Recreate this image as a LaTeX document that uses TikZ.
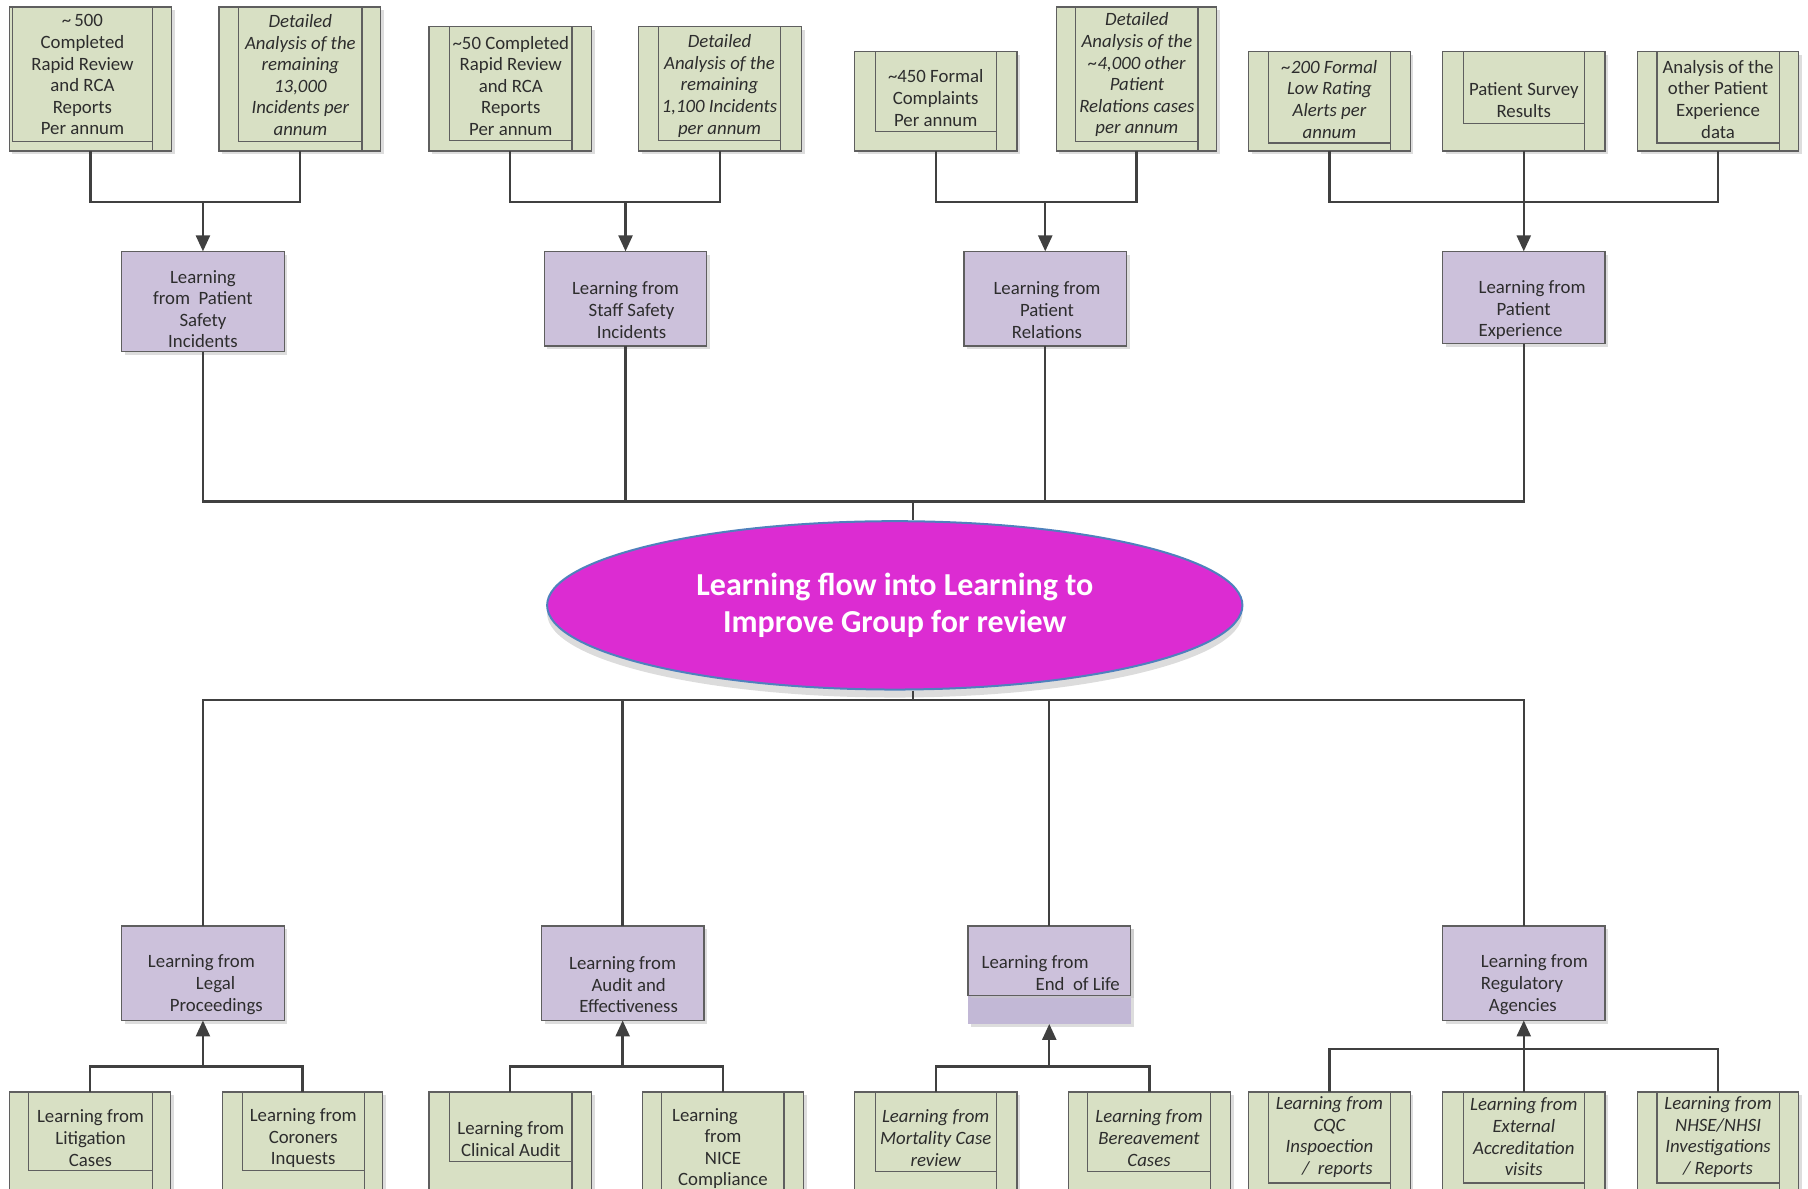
\documentclass[tikz,border=0pt]{standalone}
\usepackage{fontspec}
\setmainfont{Carlito}
\usetikzlibrary{arrows.meta,shadows,shapes.geometric,calc}

\definecolor{srcfill}{RGB}{216,224,196}
\definecolor{learnfill}{RGB}{204,193,219}
\definecolor{learnstrip}{RGB}{194,184,214}
\definecolor{hubfill}{RGB}{220,44,210}
\definecolor{hubline}{RGB}{79,129,189}
\definecolor{linkgray}{RGB}{64,64,64}
\definecolor{boxgray}{RGB}{95,95,95}
\definecolor{txtgray}{RGB}{45,45,45}

\newcommand{\unitpx}{0.5765pt}
\newcommand{\rowbot}{131}

\tikzset{
  srcbox/.style={draw=boxgray, line width=0.6pt, fill=srcfill, inner sep=0pt, outer sep=0pt,
    drop shadow={shadow xshift=1.6pt, shadow yshift=-1.6pt, fill=black!22, opacity=0.6}},
  srcline/.style={draw=boxgray, line width=0.6pt},
  srctext/.style={align=center, inner sep=0pt, text=txtgray, font=\fontsize{9.4}{10.8}\selectfont},
  srcital/.style={srctext/.append style={font=\fontsize{9.4}{10.8}\selectfont\itshape}},
  learnbox/.style={draw=boxgray, line width=0.6pt, fill=learnfill, inner sep=0pt, outer sep=0pt,
    minimum width=141*\unitpx,
    drop shadow={shadow xshift=1.6pt, shadow yshift=-1.6pt, fill=black!22, opacity=0.6}},
  learntext/.style={align=center, inner sep=0pt, text=txtgray, font=\fontsize{9.4}{10.8}\selectfont},
  hub/.style={ellipse, draw=hubline, line width=1pt, fill=hubfill, text=white, align=center,
    inner sep=0pt, font=\fontsize{16}{18.4}\selectfont\bfseries,
    drop shadow={shadow xshift=0pt, shadow yshift=-4pt, fill=black!45, opacity=0.3}},
  link/.style={draw=linkgray, line width=1.2pt},
  flow/.style={link, -{Triangle[length=8pt,width=7pt]}},
}

% source box: name, left, right, top, inner left, inner right, inner bottom, text y, text
\newcommand{\srcbox}[9]{%
  \node[srcbox, anchor=north west, minimum width={(#3-#2)*\unitpx},
    minimum height={(\rowbot-#4)*\unitpx}] (#1) at (#2,#4) {};
  \draw[srcline] (#5,#4) -- (#5,#7) -- (#6,#7);
  \draw[srcline] (#6,#4) -- (#6,\rowbot);
  \node[srctext] (#1-t) at ({(#5+#6)/2},#8) {#9};
}

\begin{document}
\begin{tikzpicture}[x=\unitpx, y=-\unitpx]
\useasboundingbox (0,0) rectangle (1568,1031);
\clip (0,0) rectangle (1568,1031);

% sources feeding the learning streams
\renewcommand{\rowbot}{131}
\srcbox{srcA1}{8}{149}{6}{11}{132}{123}{65}{\textasciitilde\,500\\Completed\\Rapid Review\\and RCA\\Reports\\Per annum}
\srcbox{srcB1}{372}{513}{23}{390}{496}{122}{74.5}{\textasciitilde 50 Completed\\Rapid Review\\and RCA\\Reports\\Per annum}
\srcbox{srcC1}{741}{882}{45}{759}{864}{114}{85}{\textasciitilde 450 Formal\\Complaints\\Per annum}
\srcbox{srcD2}{1251}{1392}{45}{1269}{1374}{107}{87}{Patient Survey\\Results}
\srcbox{srcD3}{1420}{1560}{45}{1437}{1543}{124}{86}{Analysis of the\\other Patient\\Experience\\data}
\begin{scope}[srcital]
\srcbox{srcA2}{190}{330}{6}{207}{314}{123}{65}{Detailed\\Analysis of the\\remaining\\13,000\\Incidents per\\annum}
\srcbox{srcB2}{554}{695}{23}{571}{677}{122}{74.5}{Detailed\\Analysis of the\\remaining\\1,100 Incidents\\per annum}
\srcbox{srcC2}{916}{1055}{6}{933}{1039}{123}{65}{Detailed\\Analysis of the\\\textasciitilde 4,000 other\\Patient\\Relations cases\\per annum}
\srcbox{srcD1}{1083}{1223}{45}{1100}{1206}{124}{86}{\textasciitilde 200 Formal\\Low Rating\\Alerts per\\annum}
\end{scope}

% learning streams (upper)
\node[learnbox, minimum height=87*\unitpx] (psi) at (176,261.5) {};
\node[learnbox, minimum height=82*\unitpx] (ssi) at (542.5,259) {};
\node[learnbox, minimum height=82*\unitpx] (prel) at (906.5,259) {};
\node[learnbox, minimum height=80*\unitpx] (pexp) at (1321.5,258) {};
\node[learntext] (psi-t) at (176,268) {Learning\\from~~Patient\\Safety\\Incidents};
\node[learntext] (ssi-t) at (542.5,269) {Learning from\\\hspace*{6pt}Staff Safety\\\hspace*{6pt}Incidents};
\node[learntext] (prel-t) at (908,269) {Learning from\\Patient\\Relations};
\node[learntext, align=left, anchor=west] (pexp-t) at (1282,269) {Learning from\\\hspace*{9pt}Patient\\Experience};

% central group
\node[hub, minimum width=603*\unitpx, minimum height=146*\unitpx] (hub) at (776,525)
  {Learning flow into Learning to\\Improve Group for review};

% learning streams (lower)
\node[learnbox, minimum height=82*\unitpx] (legal) at (176,844) {};
\node[learnbox, minimum height=82*\unitpx] (audit) at (540,844) {};
\node[learnbox, draw=none, fill=learnstrip, minimum height=85*\unitpx] (eol) at (910,845.5) {};
\node[learnbox, drop shadow={opacity=0}, minimum height=60*\unitpx, anchor=north] (eolhead) at (eol.north) {};
\node[learnbox, minimum height=82*\unitpx] (reg) at (1321.5,844) {};
\node[learntext, align=left, anchor=west] (legal-t) at (128,854) {Learning from\\\hspace*{24pt}Legal\\\hspace*{11pt}Proceedings};
\node[learntext] (audit-t) at (540,854) {Learning from\\\hspace*{6pt}Audit and\\\hspace*{6pt}Effectiveness};
\node[learntext, align=left, anchor=west] (eol-t) at (851,844) {Learning from\\\hspace*{27pt}End~~of Life};
\node[learntext, align=left, anchor=west] (reg-t) at (1284,854) {Learning from\\Regulatory\\\hspace*{4pt}Agencies};

% inputs to the lower streams
\renewcommand{\rowbot}{1045}
\srcbox{inA1}{8}{148}{947}{25}{132}{1015}{987}{Learning from\\Litigation\\Cases}
\srcbox{inA2}{193}{332}{947}{210}{316}{1015}{987}{Learning from\\Coroners\\Inquests}
\srcbox{inB1}{372}{513}{947}{390}{496}{1007}{988}{Learning from\\Clinical Audit}
\srcbox{inB2}{557}{697}{947}{574}{680}{1040}{996}{Learning\hspace*{18pt}\\from\\NICE\\Compliance}
\begin{scope}[srcital]
\srcbox{inC1}{741}{882}{947}{759}{864}{1016}{987}{Learning from\\Mortality Case\\review}
\srcbox{inC2}{927}{1067}{947}{943}{1050}{1016}{987}{Learning from\\Bereavement\\Cases}
\srcbox{inD1}{1083}{1223}{947}{1100}{1206}{1026}{986}{Learning from\\CQC\\Inspoection\\\hspace*{8pt}/~~reports}
\srcbox{inD2}{1251}{1392}{947}{1269}{1374}{1026}{986}{Learning from\\External\\Accreditation\\visits}
\srcbox{inD3}{1420}{1560}{947}{1437}{1543}{1026}{986}{Learning from\\NHSE/NHSI\\Investigations\\/ Reports}
\end{scope}

% upper joins
\coordinate (barA) at (176,175);
\coordinate (barB) at (542.5,175);
\coordinate (barC) at (906.5,175);
\coordinate (barD) at (1321.5,175);
\draw[link] (srcA1.south) |- (barA) -| (srcA2.south);
\draw[link] (srcB1.south) |- (barB) -| (srcB2.south);
\draw[link] (srcC1.south) |- (barC) -| (srcC2.south);
\draw[link] (srcD1.south) |- (barD) -| (srcD3.south);
\draw[link] (srcD2.south) -- (barD);
\draw[flow] (barA) -- (psi);
\draw[flow] (barB) -- (ssi);
\draw[flow] (barC) -- (prel);
\draw[flow] (barD) -- (pexp);

\coordinate (hubN) at (792,435);
\draw[link] (psi.south) |- (hubN) -| (pexp.south);
\draw[link] (ssi.south) -- (ssi.south |- hubN);
\draw[link] (prel.south) -- (prel.south |- hubN);
\draw[link] (hubN) -- (hubN |- hub.north);

% lower joins
\coordinate (hubS) at (792,607);
\draw[link] (hubS |- hub.south) -- (hubS);
\draw[link] (legal.north) |- (hubS) -| (reg.north);
\draw[link] (audit.north) -- (audit.north |- hubS);
\draw[link] (eol.north) -- (eol.north |- hubS);

\coordinate (barE) at (176,925);
\coordinate (barF) at (540,925);
\coordinate (barG) at (910,925);
\coordinate (barH) at (1321.5,910);
\draw[link] (inA1.north) |- (barE) -| (inA2.north);
\draw[link] (inB1.north) |- (barF) -| (inB2.north);
\draw[link] (inC1.north) |- (barG) -| (inC2.north);
\draw[link] (inD1.north) |- (barH) -| (inD3.north);
\draw[link] (inD2.north) -- (barH);
\draw[flow] (barE) -- (legal);
\draw[flow] (barF) -- (audit);
\draw[flow] (barG) -- (eol);
\draw[flow] (barH) -- (reg);
\end{tikzpicture}
\end{document}
